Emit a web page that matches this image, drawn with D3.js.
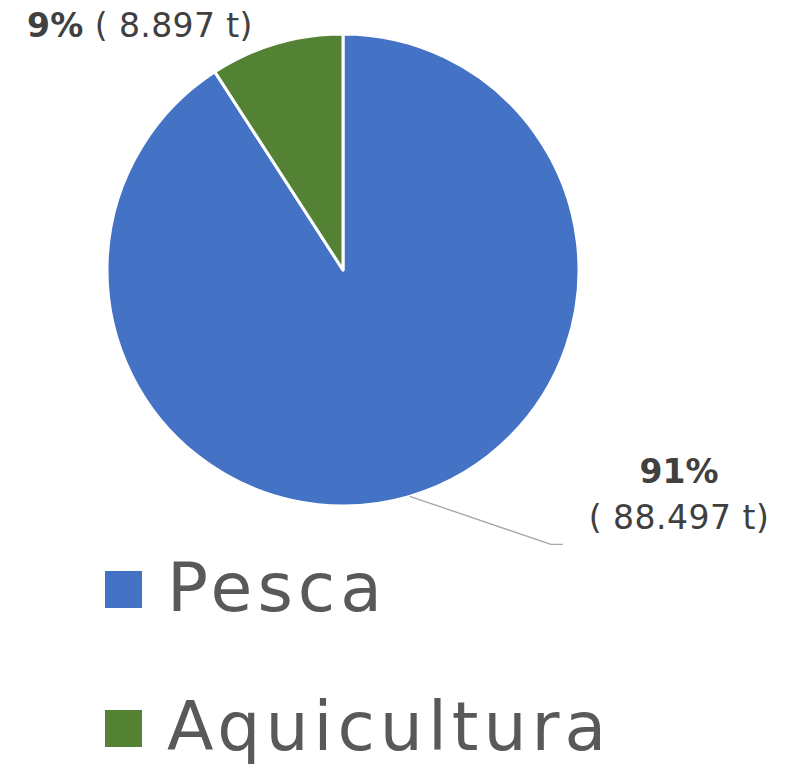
<!DOCTYPE html>
<html>
<head>
<meta charset="utf-8">
<script src="https://cdn.jsdelivr.net/npm/d3@7"></script>
<style>
  body { margin: 0; background: #fff; }
  svg { display: block; }
</style>
</head>
<body>
<script>
const categories = ["Pesca", "Aquicultura"];
const values = [88497, 8897];
const tonLabels = ["88.497 t", "8.897 t"];
const colors = ["#4472c4", "#548235"];

const width = 798, height = 766;
const cx = 343, cy = 270, radius = 236;
const font = "'DejaVu Sans', sans-serif";

const svg = d3.select("body").append("svg")
    .attr("width", width)
    .attr("height", height);

const total = d3.sum(values);
const pie = d3.pie().sort(null)(values);
const arc = d3.arc().innerRadius(0).outerRadius(radius);

const g = svg.append("g").attr("transform", `translate(${cx},${cy})`);

g.selectAll("path.slice")
    .data(pie)
    .join("path")
    .attr("class", "slice")
    .attr("d", arc)
    .attr("fill", (d, i) => colors[i])
    .attr("stroke", "#fff")
    .attr("stroke-width", 3)
    .attr("stroke-linejoin", "round");

const pct = v => Math.round(v / total * 100) + "%";

// leader line for Pesca (from edge at mid angle)
const edge = d3.arc().innerRadius(radius).outerRadius(radius);
const p0 = edge.centroid(pie[0]);
g.append("polyline")
    .attr("points", [p0, [p0[0] + 141, p0[1] + 48], [p0[0] + 153, p0[1] + 48]].map(p => p.join(",")).join(" "))
    .attr("fill", "none")
    .attr("stroke", "#a6a6a6")
    .attr("stroke-width", 1.3);

// Pesca label (two lines)
const lab0 = svg.append("text")
    .attr("text-anchor", "middle")
    .attr("font-family", font)
    .attr("fill", "#404040");
lab0.append("tspan")
    .attr("x", 679).attr("y", 483)
    .attr("font-size", 33).attr("font-weight", "bold")
    .text(pct(values[0]));
lab0.append("tspan")
    .attr("x", 679).attr("y", 529)
    .attr("font-size", 33)
    .attr("letter-spacing", 0.5)
    .text("( " + tonLabels[0] + ")");

// Aquicultura label (one line)
const lab1 = svg.append("text")
    .attr("x", 27).attr("y", 37)
    .attr("font-family", font)
    .attr("font-size", 33)
    .attr("letter-spacing", 0.4)
    .attr("fill", "#404040");
lab1.append("tspan").attr("font-weight", "bold").text(pct(values[1]));
lab1.append("tspan").text(" ( " + tonLabels[1] + ")");

// legend
const legend = svg.append("g").attr("transform", "translate(105,571)");
const item = legend.selectAll("g")
    .data(categories)
    .join("g")
    .attr("transform", (d, i) => `translate(0,${i * 139})`);
item.append("rect")
    .attr("width", 37).attr("height", 37)
    .attr("fill", (d, i) => colors[i]);
item.append("text")
    .attr("x", 62).attr("y", 40)
    .attr("font-family", font)
    .attr("font-size", 68)
    .attr("letter-spacing", 5)
    .attr("fill", "#595959")
    .text(d => d);
</script>
</body>
</html>
